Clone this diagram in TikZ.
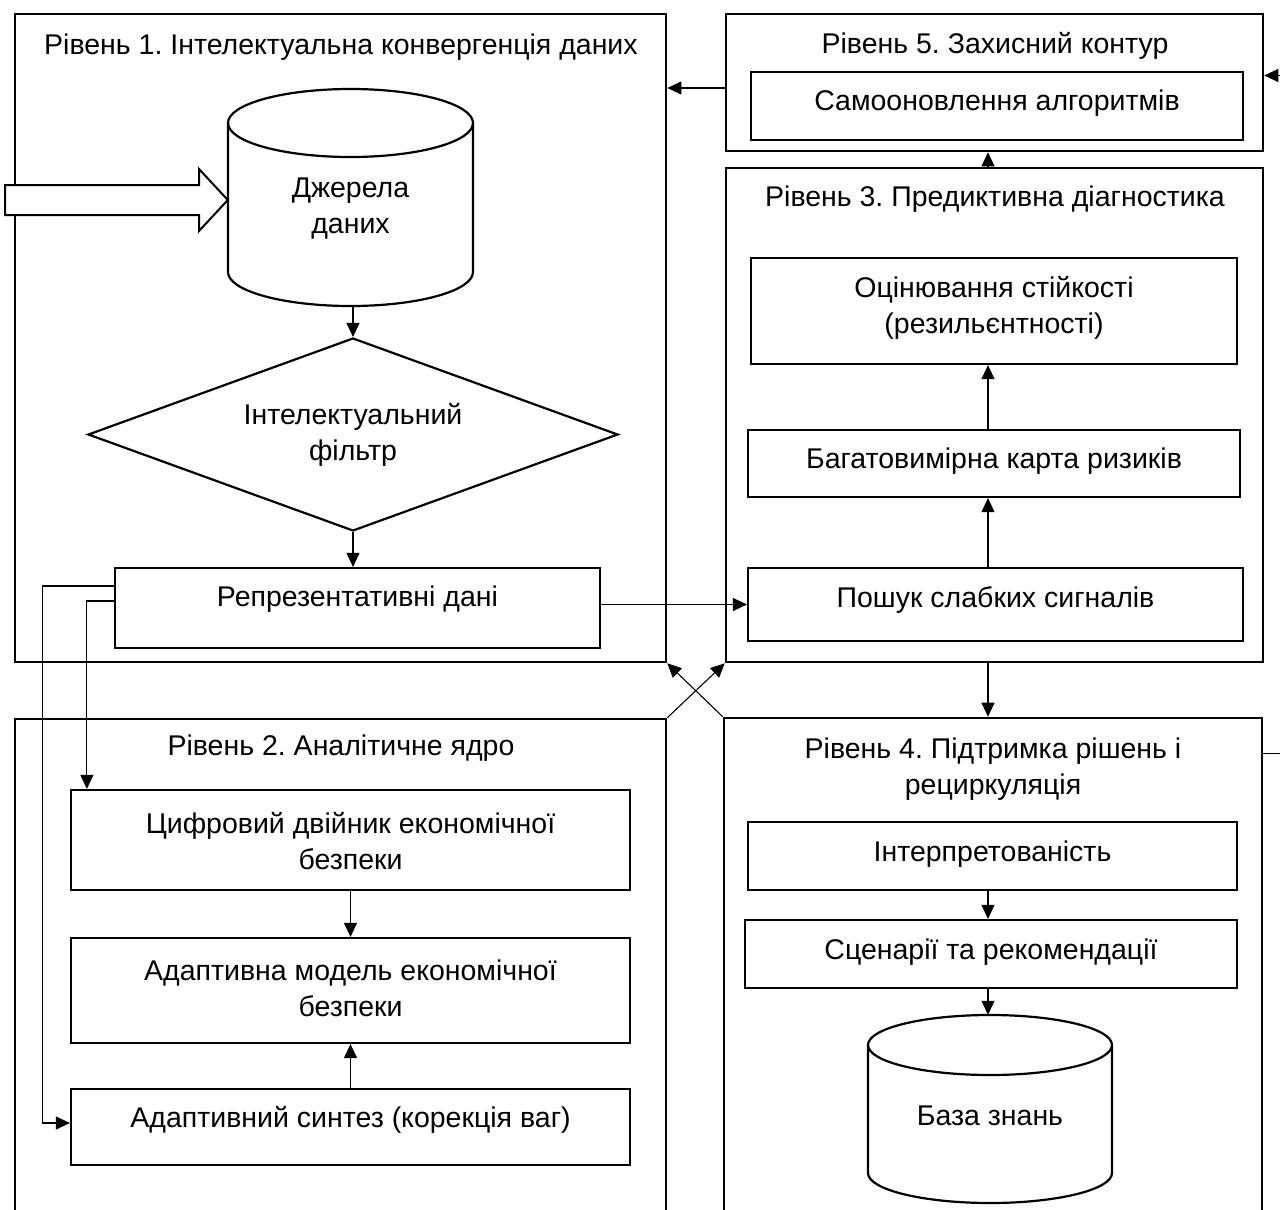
\documentclass[tikz,border=0pt]{standalone}
\usepackage{fontspec}
\setmainfont{Liberation Sans}
\usetikzlibrary{arrows.meta,shapes.geometric,calc}
\begin{document}
\frenchspacing
\begin{tikzpicture}[x=1pt,y=-1pt,
  font=\fontsize{28.5}{36}\selectfont,
  cont/.style={draw=black, line width=2.6pt, fill=none, inner sep=0pt},
  box/.style={draw=black, line width=2.2pt, fill=white, inner sep=0pt},
  txt/.style={align=center, inner sep=0pt, text=black, yshift=-2.5pt},
  conn/.style={draw=black, line width=1.1pt, -{Triangle[length=14pt,width=13pt]}},
  line/.style={draw=black, line width=1.1pt}]
\clip (0,0) rectangle (1280,1210);
\useasboundingbox (0,0) rectangle (1280,1210);
\coordinate (ax) at (988,0);
% containers
\node[cont, minimum width=651pt, minimum height=648pt] (L1) at (340.5,338) {};
\node[cont, minimum width=537pt, minimum height=137pt] (L5) at (994.5,82.5) {};
\node[cont, minimum width=537pt, minimum height=494pt] (L3) at (994.5,415) {};
\node[cont, minimum width=651pt, minimum height=521pt] (L2) at (340.5,979.5) {};
\node[cont, minimum width=538pt, minimum height=522pt] (L4) at (993,979) {};
\node[txt] (L1t) at (341,45) {Рівень 1. Інтелектуальна конвергенція даних};
\node[txt] (L5t) at (995,43) {Рівень 5. Захисний контур};
\node[txt] (L3t) at (995,197) {Рівень 3. Предиктивна діагностика};
\node[txt] (L2t) at (341,746) {Рівень 2. Аналітичне ядро};
\node[txt] (L4t) at (993,766.5) {Рівень 4. Підтримка рішень і\\рециркуляція};
% level 1 content
\node[minimum width=245pt, minimum height=218pt, inner sep=0pt] (src) at (350.5,197) {};
\draw[box] (473,123) arc[start angle=0, end angle=360, x radius=122.5pt, y radius=34pt];
\draw[box, fill=none] (228,123) -- (228,272) arc[start angle=180, end angle=360, x radius=122.5pt, y radius=34pt] -- (473,123);
\node[txt] (srct) at (350.5,206) {Джерела\\даних};
\draw[line width=2pt, fill=white] (5,185) -- (199,185) -- (199,169) -- (src.west |- 0,200) -- (199,231) -- (199,215) -- (5,215) -- cycle;
\node[draw=black, line width=2.2pt, shape=diamond, minimum width=530pt, minimum height=193pt, inner sep=0pt] (dia) at (353,434.5) {};
\node[txt] (diat) at (353,432) {Інтелектуальний\\фільтр};
\node[box, minimum width=485pt, minimum height=80pt] (rep) at (357.5,608) {};
\node[txt] (rept) at (357.5,597) {Репрезентативні дані};
% level 5
\node[box, minimum width=492pt, minimum height=68pt] (self) at (997,106) {};
\node[txt] (selft) at (997,101) {Самооновлення алгоритмів};
% level 3
\node[box, minimum width=486pt, minimum height=106pt] (ocin) at (994,311) {};
\node[txt] (ocint) at (994,305) {Оцінювання стійкості\\(резильєнтності)};
\node[box, minimum width=492pt, minimum height=67pt] (karta) at (994,463.5) {};
\node[txt] (kartat) at (994,459) {Багатовимірна карта ризиків};
\node[box, minimum width=495pt, minimum height=73pt] (poshuk) at (995.5,604.5) {};
\node[txt] (poshukt) at (995.5,597) {Пошук слабких сигналів};
% level 2
\node[box, minimum width=559pt, minimum height=100pt] (dvij) at (350.5,840) {};
\node[txt] (dvijt) at (350.5,839) {Цифровий двійник економічної\\безпеки};
\node[box, minimum width=559pt, minimum height=105pt] (model) at (350.5,990.5) {};
\node[txt] (modelt) at (350.5,986) {Адаптивна модель економічної\\безпеки};
\node[box, minimum width=559pt, minimum height=76pt] (synth) at (350.5,1127) {};
\node[txt] (syntht) at (350.5,1117) {Адаптивний синтез (корекція ваг)};
% level 4
\node[box, minimum width=489pt, minimum height=68pt] (interp) at (992.5,856) {};
\node[txt] (interpt) at (992.5,852) {Інтерпретованість};
\node[box, minimum width=492pt, minimum height=68pt] (scen) at (991,954) {};
\node[txt] (scent) at (991,950) {Сценарії та рекомендації};
\node[minimum width=244pt, minimum height=188pt, inner sep=0pt] (baza) at (990,1109) {};
\draw[box] (1112,1045) arc[start angle=0, end angle=360, x radius=122pt, y radius=30pt];
\draw[box, fill=none] (868,1045) -- (868,1173) arc[start angle=180, end angle=360, x radius=122pt, y radius=30pt] -- (1112,1045);
\node[txt] (bazat) at (990,1113) {База знань};
% connectors
\draw[conn] (dia.north |- src.south) -- (dia.north);
\draw[conn] (dia.south) -- (dia.south |- rep.north);
\draw[conn] (rep.east |- poshuk.west) -- (poshuk.west);
\coordinate (p5) at ([yshift=-5.5pt]L5.west);
\draw[conn] (p5) -- (p5 -| L1.east);
\draw[conn] (L3.north -| ax) -- (L5.south -| ax);
\draw[conn] (poshuk.north -| ax) -- (karta.south -| ax);
\draw[conn] (karta.north -| ax) -- (ocin.south -| ax);
\draw[conn] (L3.south -| ax) -- (L4.north -| ax);
\draw[conn] (L2.north east) -- (L3.south west);
\draw[conn] (L4.north west) -- (L1.south east);
\draw[conn] ([yshift=22pt]rep.west) -- ++(-71,0) |- ([yshift=4pt]synth.west);
\draw[conn] ([yshift=7pt]rep.west) -| ([xshift=17pt]dvij.north west);
\draw[conn] (dvij.south) -- (model.north);
\draw[conn] (synth.north) -- (model.south);
\draw[conn] (interp.south -| ax) -- (scen.north -| ax);
\draw[conn] (scen.south -| ax) -- (baza.north -| ax);
\draw[conn] ([yshift=-37pt]L4.north east) -- ++(40,0) |- ([yshift=7pt]L5.east);
\end{tikzpicture}
\end{document}
